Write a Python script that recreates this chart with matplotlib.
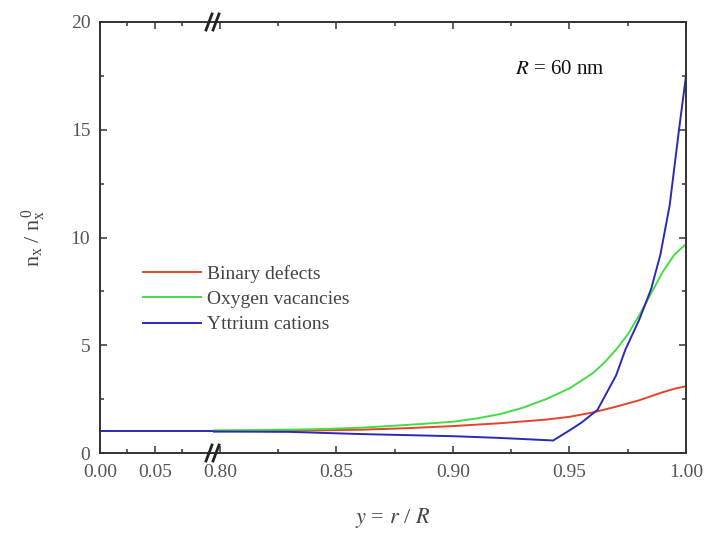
import matplotlib
matplotlib.use('Agg')
import matplotlib.pyplot as plt
from matplotlib.lines import Line2D
from matplotlib.ticker import MultipleLocator

plt.rcParams['font.family'] = ['Liberation Serif', 'DejaVu Serif']
plt.rcParams['mathtext.fontset'] = 'stix'

# data
y_left = [0.0, 0.05, 0.103]
yttrium_left = [1.0, 1.0, 1.0]

y_binary = [0.797, 0.83, 0.86, 0.88, 0.90, 0.92, 0.94, 0.95, 0.96, 0.97, 0.98, 0.99, 0.995, 1.00]
binary = [1.0, 1.03, 1.08, 1.15, 1.25, 1.38, 1.55, 1.68, 1.88, 2.15, 2.45, 2.82, 2.98, 3.1]

y_oxygen = [0.797, 0.82, 0.84, 0.86, 0.88, 0.90, 0.91, 0.92, 0.93, 0.94, 0.95, 0.96, 0.965,
            0.97, 0.975, 0.98, 0.985, 0.99, 0.995, 1.00]
oxygen = [1.05, 1.07, 1.1, 1.17, 1.3, 1.45, 1.6, 1.8, 2.1, 2.5, 3.0, 3.7, 4.2,
          4.8, 5.5, 6.4, 7.4, 8.4, 9.2, 9.7]

y_yttrium = [0.797, 0.83, 0.86, 0.88, 0.90, 0.92, 0.943, 0.95, 0.955, 0.962, 0.97, 0.974,
             0.98, 0.985, 0.989, 0.993, 0.997, 1.00]
yttrium = [1.0, 0.98, 0.88, 0.83, 0.78, 0.7, 0.58, 1.05, 1.4, 2.0, 3.6, 4.8,
           6.2, 7.6, 9.2, 11.5, 15.0, 17.5]

c_red = '#e5432a'
c_green = '#44dd44'
c_blue = '#2a2ab8'
txt = '#444444'
lw = 1.4

fig = plt.figure(figsize=(7.05, 5.34), dpi=100)
W, H = 705.0, 534.0
left, right, bottom, top = 100 / W, 686 / W, 1 - 453 / H, 1 - 22 / H
brk = 213 / W

ax1 = fig.add_axes([left, bottom, brk - left, top - bottom])
ax2 = fig.add_axes([brk, bottom, right - brk, top - bottom])

ax1.plot(y_left, yttrium_left, color=c_blue, lw=lw, clip_on=False)
ax2.plot(y_binary, binary, color=c_red, lw=lw, label='Binary defects')
ax2.plot(y_oxygen, oxygen, color=c_green, lw=lw, label='Oxygen vacancies')
ax2.plot(y_yttrium, yttrium, color=c_blue, lw=lw, label='Yttrium cations')

ax1.set_xlim(0, 0.103)
ax2.set_xlim(0.797, 1.0)
for ax in (ax1, ax2):
    ax.set_ylim(0, 20)
    ax.yaxis.set_major_locator(MultipleLocator(5))
    ax.yaxis.set_minor_locator(MultipleLocator(2.5))
    ax.xaxis.set_major_locator(MultipleLocator(0.05))
    ax.xaxis.set_minor_locator(MultipleLocator(0.025))
    ax.tick_params(which='both', direction='in', top=True, color='#333333',
                   labelcolor='#555555', labelsize=14, width=1.1)
    ax.tick_params(which='major', length=5)
    ax.tick_params(which='minor', length=3)
    for s in ax.spines.values():
        s.set_linewidth(1.4)
        s.set_color('#333333')
    ax.xaxis.set_major_formatter(plt.FuncFormatter(lambda v, p: '%.2f' % v))

ax1.spines['right'].set_visible(False)
ax2.spines['left'].set_visible(False)
ax1.tick_params(which='both', right=False)
ax2.tick_params(which='both', left=False, right=True, labelleft=False)
ax1.set_xticks([0.0, 0.05])
ax1.set_xticks([0.025, 0.075], minor=True)
ax2.tick_params(axis='x', pad=8)
ax1.tick_params(axis='x', pad=8)
ax1.tick_params(axis='y', pad=7)

# axis break marks
for yb in (bottom, top):
    for dx in (-4, 3):
        x0 = (213 + dx) / W
        fig.add_artist(Line2D([x0 - 3 / W, x0 + 3 / W], [yb - 8 / H, yb + 8 / H],
                              color='#222222', lw=2.0))

ax1.set_ylabel(r'$\mathregular{n_x\ /\ n_x^{\,0}}$', fontsize=16, color=txt, labelpad=16)
fig.text((left + right) / 2, 1 - 518 / H, r'$y$ = $r$ / $R$', fontsize=16,
         color=txt, ha='center', va='center')
fig.text(515 / W, 1 - 70 / H, r'$R$ = 60 nm', fontsize=15, color='#111111',
         ha='left', va='center')

leg = ax2.legend(loc='upper left', bbox_to_anchor=(135 / W, 1 - 257 / H),
                 bbox_transform=fig.transFigure, frameon=False, fontsize=14,
                 handlelength=3.0, handletextpad=0.3, labelspacing=0.4,
                 borderaxespad=0)
for t in leg.get_texts():
    t.set_color(txt)

fig.savefig('out.png', dpi=100)
